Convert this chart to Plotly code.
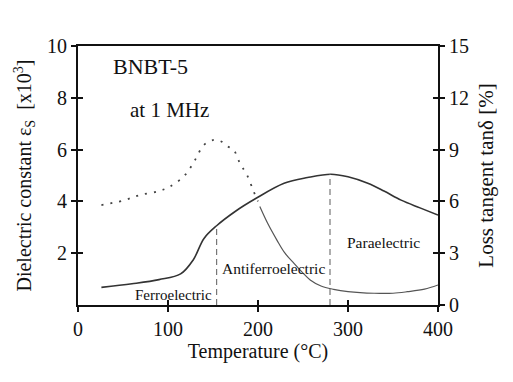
import plotly.graph_objects as go

# Dielectric constant (left axis, x10^3)
temp_eps = [26, 60, 90, 114, 128, 140, 154, 175, 197, 229, 255, 281, 300, 322, 340, 359, 380, 400]
eps = [0.68, 0.82, 0.98, 1.2, 1.74, 2.57, 3.06, 3.62, 4.1, 4.7, 4.92, 5.05, 4.95, 4.7, 4.4, 4.05, 3.75, 3.47]

# Loss tangent (right axis, %) dotted part
temp_tan_dot = [26, 50, 69, 90, 102, 119, 130, 140, 151, 160, 167, 173, 180, 188, 195, 200]
tan_dot = [5.79, 6.05, 6.37, 6.6, 6.85, 7.53, 8.4, 9.27, 9.56, 9.45, 9.17, 8.98, 8.2, 7.5, 6.6, 6.0]
# Loss tangent solid part
temp_tan_sol = [202, 211, 221, 230, 240, 250, 258, 270, 284, 300, 329, 350, 366, 385, 400]
tan_sol = [5.7, 4.7, 3.76, 3.0, 2.41, 1.85, 1.45, 1.1, 0.91, 0.78, 0.68, 0.68, 0.77, 0.92, 1.16]

phase_T = [154, 280]
phase_eps = [3.06, 5.05]

xticks = [0, 100, 200, 300, 400]
yticks_left = [2, 4, 6, 8, 10]
yticks_right = [0, 3, 6, 9, 12, 15]

serif = "Liberation Serif, Times New Roman, serif"
ink = "#111111"

fig = go.Figure()
fig.add_trace(go.Scatter(x=temp_eps, y=eps, mode="lines", line=dict(color="#333333", width=1.6, shape="spline"),
                         yaxis="y", showlegend=False))
fig.add_trace(go.Scatter(x=temp_tan_dot, y=tan_dot, mode="lines", line=dict(color="#444444", width=1.8, shape="spline", dash="2px,7px"),
                         yaxis="y2", showlegend=False))
fig.add_trace(go.Scatter(x=temp_tan_sol, y=tan_sol, mode="lines", line=dict(color="#555555", width=1.2, shape="spline"),
                         yaxis="y2", showlegend=False))
for t, e in zip(phase_T, phase_eps):
    fig.add_trace(go.Scatter(x=[t, t], y=[0, e], mode="lines", line=dict(color="#777777", width=1.2, dash="6px,4px"),
                             yaxis="y", showlegend=False))

axis_common = dict(showgrid=False, zeroline=False, showline=True, linecolor=ink, linewidth=2,
                   tickcolor=ink, tickwidth=1.5, ticklen=5, tickfont=dict(family=serif, size=20, color=ink))

fig.update_layout(
    width=513, height=382,
    margin=dict(l=78, r=75, t=46, b=77),
    paper_bgcolor="white", plot_bgcolor="white",
    xaxis=dict(range=[0, 400], tickvals=xticks, ticks="outside", mirror=True,
               title=dict(text="Temperature (°C)", font=dict(family=serif, size=20, color=ink), standoff=0),
               **axis_common),
    yaxis=dict(range=[0, 10], tickvals=yticks_left, ticks="outside",
               title=dict(text="Dielectric constant ε<sub>S</sub>  [x10<sup>3</sup>]", font=dict(family=serif, size=20, color=ink), standoff=10),
               **axis_common),
    yaxis2=dict(range=[0, 15], tickvals=yticks_right, ticks="outside", overlaying="y", side="right", anchor="x",
                title=dict(text="Loss tangent tanδ [%]", font=dict(family=serif, size=21, color=ink), standoff=10),
                **axis_common),
    # inside duplicates to make crossing ticks
    xaxis2=dict(range=[0, 400], tickvals=xticks, ticks="inside", overlaying="x", anchor="y", side="bottom",
                showticklabels=False, showgrid=False, zeroline=False, showline=False, tickcolor=ink, tickwidth=1.5, ticklen=5),
    yaxis3=dict(range=[0, 10], tickvals=yticks_left, ticks="inside", overlaying="y", anchor="x", side="left",
                showticklabels=False, showgrid=False, zeroline=False, showline=False, tickcolor=ink, tickwidth=1.5, ticklen=5),
    yaxis4=dict(range=[0, 15], tickvals=yticks_right, ticks="inside", overlaying="y", anchor="x", side="right",
                showticklabels=False, showgrid=False, zeroline=False, showline=False, tickcolor=ink, tickwidth=1.5, ticklen=5),
)
# invisible traces so that the duplicate axes render
fig.add_trace(go.Scatter(x=[0], y=[0], xaxis="x2", yaxis="y", mode="markers", marker=dict(opacity=0), showlegend=False, hoverinfo="skip"))
fig.add_trace(go.Scatter(x=[0], y=[0], xaxis="x", yaxis="y3", mode="markers", marker=dict(opacity=0), showlegend=False, hoverinfo="skip"))
fig.add_trace(go.Scatter(x=[0], y=[0], xaxis="x", yaxis="y4", mode="markers", marker=dict(opacity=0), showlegend=False, hoverinfo="skip"))

annos = [
    ("BNBT-5", 80, 9.19, 22),
    ("at 1 MHz", 102, 7.53, 21),
    ("Ferroelectric", 106, 0.38, 15),
    ("Antiferroelectric", 217, 1.42, 15.5),
    ("Paraelectric", 339, 2.42, 15.5),
]
for txt, x, y, s in annos:
    fig.add_annotation(x=x, y=y, xref="x", yref="y", text=txt, showarrow=False,
                       font=dict(family=serif, size=s, color=ink))

fig.write_html("out.html")
